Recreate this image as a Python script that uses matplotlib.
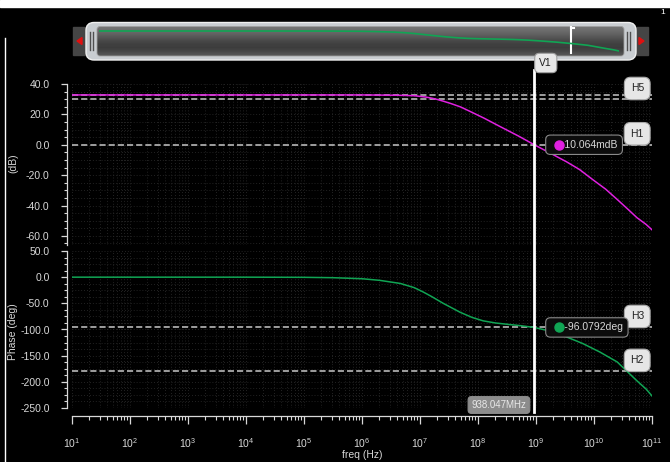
import numpy as np
import matplotlib.pyplot as plt
import matplotlib.transforms as mtransforms
from matplotlib.patches import FancyBboxPatch, Rectangle, Polygon
from matplotlib.ticker import LogLocator, MultipleLocator, FormatStrFormatter, NullFormatter

plt.rcParams['font.family'] = ['Liberation Sans', 'DejaVu Sans']
plt.rcParams['mathtext.default'] = 'regular'

# magnitude trace, log10(freq/Hz) and dB
mag_logf = [1, 2, 3, 4, 5, 6, 6.6, 6.9, 7.1, 7.2, 7.3, 7.4, 7.52, 7.7, 7.86,
            8.1, 8.38, 8.7, 8.97, 9.25, 9.53, 9.75, 9.98, 10.2, 10.4, 10.6,
            10.74, 10.9, 11]
mag_db = [32.8, 32.8, 32.8, 32.8, 32.8, 32.8, 32.6, 32.3, 31.4, 30.7, 29.8,
          28.7, 27.3, 24.9, 22.0, 17.6, 12.0, 5.7, 0.0, -5.6, -11.3, -16.3,
          -23.0, -29.2, -36.0, -43.0, -48.0, -52.5, -56.0]

# phase trace, log10(freq/Hz) and degrees
ph_logf = [1, 2, 3, 4, 5, 5.5, 6.0, 6.3, 6.66, 6.9, 7.05, 7.2, 7.4, 7.52,
           7.69, 7.9, 8.09, 8.3, 8.5, 8.72, 8.97, 9.24, 9.5, 9.81, 10.1, 10.4,
           10.57, 10.74, 10.9, 11]
ph_deg = [0, 0, 0, 0, -0.3, -1, -3, -6, -12, -20, -28, -37, -50, -57, -67,
          -77, -83.5, -87.5, -90, -92.5, -96.1, -103, -113, -127, -143, -162,
          -180, -198, -214, -227]

# markers
v1_freq = 938.047e6
v1_freq_text = '938.047MHz'
v1_mag_text = '10.064mdB'
v1_ph_text = '-96.0792deg'
mag_hlines = [32.8, 29.8, 0.0]
mag_hnames = ['', 'H5', 'H1']
ph_hlines = [-96.0792, -180.0]
ph_hnames = ['H3', 'H2']

mag_ticks = [40, 20, 0, -20, -40, -60]
ph_ticks = [50, 0, -50, -100, -150, -200, -250]

W, H = 670, 462
fg = '#d8d8d8'
magenta = '#e020e0'
green = '#10a554'

fig = plt.figure(figsize=(W / 100, H / 100), dpi=100, facecolor='black')


def px_axes(x0, y0, x1, y1):
    return fig.add_axes([x0 / W, 1 - y1 / H, (x1 - x0) / W, (y1 - y0) / H])


# background decorations (window edge, scrollbar)
deco = px_axes(0, 0, W, H)
deco.axis('off')
deco.add_patch(Rectangle((0, 0), W, 7, color='white'))
deco.plot([5, 5], [38, H], color='white', lw=1)
deco.text(663, 13, '1', color='white', fontsize=6, ha='center', va='center')

deco.add_patch(Rectangle((73, 27), 575, 28, color='#454545'))
deco.add_patch(Polygon([[77, 41], [82, 37.5], [82, 44.5]], color='#e01010'))
deco.add_patch(Polygon([[644, 41], [639, 37.5], [639, 44.5]], color='#e01010'))
deco.add_patch(FancyBboxPatch((86, 22.5), 550, 37.5,
                              boxstyle='round,pad=0,rounding_size=8',
                              fc='#c9cdd1', ec='#f0f0f0', lw=1))
inner = FancyBboxPatch((97, 26.5), 527, 29.5,
                       boxstyle='round,pad=0,rounding_size=3',
                       fc='none', ec='#a0a0a0', lw=0.6, zorder=3)
deco.add_patch(inner)
grad = np.array([0.45, 0.42, 0.38, 0.33, 0.28, 0.25, 0.24, 0.27, 0.33])[:, None]
img = deco.imshow(grad, extent=(97, 624, 56, 26.5), cmap='gray', vmin=0, vmax=1,
                  aspect='auto', interpolation='bilinear', zorder=2)
img.set_clip_path(inner)
for gx in (90, 93, 627, 630):
    deco.plot([gx, gx], [32, 50], color='#505050', lw=1)
deco.plot([571, 571], [27, 53], color='white', lw=1.5, zorder=4)
deco.plot([571, 573.5], [27.5, 27.5], color='white', lw=1.5, zorder=4)
deco.set_xlim(0, W)
deco.set_ylim(H, 0)

# scrollbar preview of the phase trace
prev = px_axes(99, 28, 619, 54)
prev.set_facecolor('none')
prev.axis('off')
prev.set_xscale('log')
prev.plot(10.0 ** np.array(ph_logf), ph_deg, color=green, lw=1.2)
prev.set_xlim(10, 1e11)
prev.set_ylim(-261, 34)

ax_mag = px_axes(72, 84, 652, 245)
ax_ph = px_axes(72, 251, 652, 408)

for ax in (ax_mag, ax_ph):
    ax.set_facecolor('black')
    ax.set_xscale('log')
    for s in ('top', 'right', 'bottom'):
        ax.spines[s].set_visible(False)
    ax.spines['left'].set_position(('outward', 3.6))
    ax.spines['left'].set_color(fg)
    ax.spines['left'].set_linewidth(0.9)
    ax.yaxis.set_major_formatter(FormatStrFormatter('%.1f'))
    ax.tick_params(axis='y', which='major', colors=fg, labelsize=7.5,
                   length=4.5, width=0.9, pad=8)
    ax.tick_params(axis='y', which='minor', colors=fg, length=2.5, width=0.8)
    ax.xaxis.set_major_locator(LogLocator(base=10, numticks=20))
    ax.xaxis.set_minor_locator(LogLocator(base=10, subs=np.arange(2, 10), numticks=20))
    ax.grid(which='both', color='#2e2e2e', linestyle=(0, (1, 2.5)), linewidth=0.6)
    ax.set_axisbelow(True)

# magnitude
ax_mag.plot(10.0 ** np.array(mag_logf), mag_db, color=magenta, lw=1.1, zorder=3)
for y in mag_hlines:
    ax_mag.axhline(y, color='#c8c8c8', lw=1.1, dashes=(4, 2), zorder=2)
ax_mag.set_xlim(10, 1e11)
ax_mag.set_ylim(-66, 40)
ax_mag.set_yticks(mag_ticks)
ax_mag.yaxis.set_minor_locator(MultipleLocator(5))
ax_mag.tick_params(axis='x', which='both', bottom=False, labelbottom=False)

# phase
ax_ph.plot(10.0 ** np.array(ph_logf), ph_deg, color=green, lw=1.1, zorder=3)
for y in ph_hlines:
    ax_ph.axhline(y, color='#c8c8c8', lw=1.1, dashes=(4, 2), zorder=2)
ax_ph.set_xlim(10, 1e11)
ax_ph.set_ylim(-250, 50)
ax_ph.set_yticks(ph_ticks)
ax_ph.yaxis.set_minor_locator(MultipleLocator(12.5))
ax_ph.spines['bottom'].set_visible(True)
ax_ph.spines['bottom'].set_position(('outward', 5.8))
ax_ph.spines['bottom'].set_color(fg)
ax_ph.spines['bottom'].set_linewidth(0.9)
ax_ph.tick_params(axis='x', which='major', colors=fg, labelsize=7.5,
                  length=5.5, width=0.9, pad=9)
ax_ph.tick_params(axis='x', which='minor', colors=fg, length=3, width=0.8)
ax_ph.xaxis.set_minor_formatter(NullFormatter())

# H marker tags
hbox = dict(boxstyle='round,pad=0.6', fc='#e6e6e6', ec='#a8a8a8', lw=0.8)
for ax, ys, names in ((ax_mag, mag_hlines, mag_hnames), (ax_ph, ph_hlines, ph_hnames)):
    tr = mtransforms.blended_transform_factory(ax.transAxes, ax.transData)
    tr = mtransforms.offset_copy(tr, fig=fig, x=0, y=6, units='dots')
    for y, name in zip(ys, names):
        if name:
            ax.text(0.986, y, name, transform=tr, ha='right', va='bottom',
                    fontsize=7.5, color='#202020', bbox=hbox, zorder=6)

# V1 cursor through both plots
vtr = mtransforms.blended_transform_factory(ax_ph.transData, fig.transFigure)
fig.add_artist(plt.Line2D([v1_freq, v1_freq], [1 - 70 / H, 1 - 412 / H],
                          transform=vtr, color='white', lw=2, zorder=4))
fig.text(v1_freq, 1 - 63 / H, 'V1', ha='left', va='center', fontsize=7.5,
         color='#202020', zorder=5,
         transform=mtransforms.offset_copy(vtr, fig=fig, x=5, y=0, units='dots'),
         bbox=dict(boxstyle='round,pad=0.45', fc='#e8e8e8', ec='#a0a0a0', lw=0.8))
fig.text(v1_freq, 1 - 405 / H, v1_freq_text, ha='right', va='center', fontsize=7,
         color='#e8e8e8', zorder=5,
         transform=mtransforms.offset_copy(vtr, fig=fig, x=-8, y=0, units='dots'),
         bbox=dict(boxstyle='round,pad=0.35', fc='#8c8c8c', ec='#8c8c8c', lw=0.8))

# value tags at the cursor
tbox = dict(boxstyle='round,pad=0.45', fc='#0c0c0c', ec='#8a8a8a', lw=0.8)
for ax, y, txt, col in ((ax_mag, 0.0, v1_mag_text, magenta), (ax_ph, -96.0792, v1_ph_text, green)):
    ax.text(v1_freq, y, '     ' + txt, ha='left', va='center', fontsize=7.5,
            color=fg, bbox=tbox, zorder=6, clip_on=False,
            transform=mtransforms.offset_copy(ax.transData, fig=fig, x=16, y=0, units='dots'))
    ax.plot([v1_freq], [y], 'o', ms=6.5, color=col, zorder=7, clip_on=False,
            transform=mtransforms.offset_copy(ax.transData, fig=fig, x=25, y=0, units='dots'))

fig.text(13 / W, 1 - 163 / H, '(dB)', rotation=90, ha='center', va='center',
         fontsize=7.5, color=fg)
fig.text(13 / W, 1 - 332 / H, 'Phase (deg)', rotation=90, ha='center', va='center',
         fontsize=7.5, color=fg)
fig.text(362 / W, 1 - 455 / H, 'freq (Hz)', ha='center', va='center',
         fontsize=7.5, color=fg)

plt.savefig('out.png', dpi=100, facecolor='black')
plt.close()
